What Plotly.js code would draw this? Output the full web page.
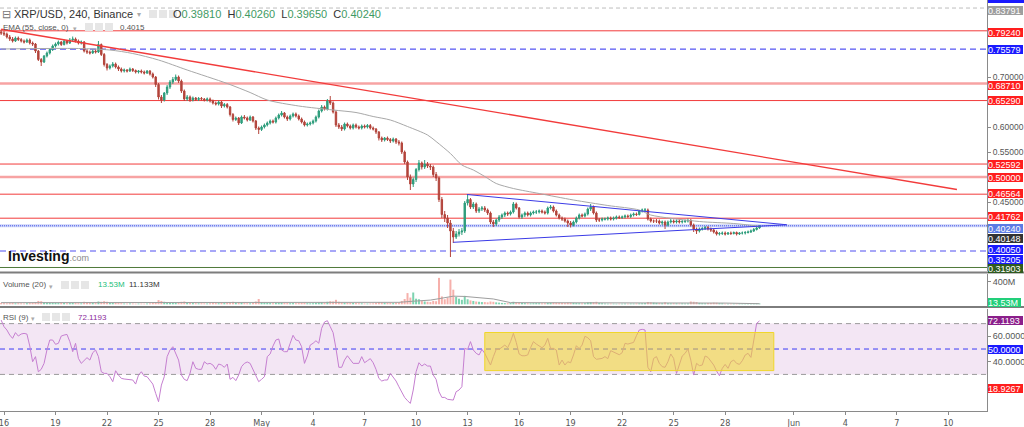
<!DOCTYPE html>
<html><head><meta charset="utf-8">
<script src="https://cdn.plot.ly/plotly-3.0.1.min.js"></script>
<style>html,body{margin:0;padding:0;background:#fff}#chart{width:1024px;height:427px}</style>
</head><body><div id="chart"></div>
<script>
// ---------- DATA ----------
const symbolTitle = 'XRP/USD, 240, Binance';
const startTime = '2022-04-15T20:00:00Z';
const stepHours = 4;

const opens = [0.790,
0.788,0.786,0.780,0.776,0.772,0.778, 0.775,0.772,0.770,0.774,0.768,0.766, 0.752,0.735,0.730,0.742,0.748,0.755,
0.762,0.766,0.770,0.765,0.772,0.768, 0.774,0.776,0.772,0.768,0.770,0.752, 0.750,0.748,0.752,0.750,0.765,0.745,
0.725,0.718,0.722,0.726,0.720,0.716, 0.712,0.714,0.712,0.716,0.713,0.710, 0.712,0.710,0.708,0.712,0.706,0.700,
0.685,0.660,0.654,0.668,0.680,0.690, 0.695,0.700,0.692,0.672,0.656,0.660, 0.654,0.658,0.655,0.657,0.656,0.654,
0.656,0.652,0.648,0.646,0.650,0.642, 0.645,0.640,0.625,0.615,0.618,0.608, 0.620,0.618,0.614,0.620,0.612,0.598,
0.595,0.600,0.604,0.608,0.612,0.610, 0.618,0.624,0.628,0.620,0.616,0.622, 0.626,0.622,0.616,0.610,0.604,0.606,
0.608,0.612,0.620,0.632,0.640,0.636, 0.652,0.648,0.630,0.604,0.600,0.596, 0.606,0.602,0.598,0.604,0.600,0.598,
0.602,0.600,0.603,0.598,0.596,0.590, 0.578,0.574,0.578,0.575,0.572,0.576, 0.570,0.568,0.550,0.530,0.500,0.486,
0.495,0.515,0.528,0.520,0.526,0.522, 0.520,0.505,0.498,0.455,0.425,0.418, 0.408,0.392,0.380,0.386,0.390,0.392,
0.448,0.455,0.440,0.446,0.432,0.436, 0.438,0.434,0.428,0.410,0.406,0.414, 0.420,0.424,0.428,0.426,0.430,0.446,
0.438,0.420,0.424,0.428,0.424,0.428, 0.430,0.430,0.432,0.430,0.428,0.438, 0.440,0.432,0.424,0.418,0.416,0.412,
0.408,0.404,0.410,0.418,0.424,0.422, 0.426,0.436,0.440,0.428,0.414,0.414, 0.416,0.416,0.418,0.416,0.418,0.420,
0.419,0.420,0.422,0.421,0.424,0.426, 0.425,0.432,0.434,0.434,0.416,0.412, 0.412,0.412,0.408,0.410,0.404,0.410,
0.412,0.410,0.412,0.410,0.411,0.412, 0.413,0.404,0.396,0.392,0.396,0.397, 0.399,0.396,0.394,0.390,0.386,0.387,
0.388,0.386,0.388,0.387,0.389,0.386, 0.388,0.388,0.389,0.390,0.392,0.395,
0.3981];

const highs = [0.795,
0.792,0.789,0.784,0.780,0.781,0.781, 0.778,0.775,0.777,0.777,0.771,0.768, 0.754,0.738,0.744,0.751,0.758,0.765,
0.769,0.773,0.772,0.775,0.774,0.778, 0.781,0.779,0.775,0.773,0.772,0.756, 0.753,0.755,0.755,0.772,0.767,0.748,
0.728,0.725,0.730,0.729,0.723,0.719, 0.717,0.716,0.719,0.718,0.715,0.714, 0.715,0.713,0.714,0.714,0.709,0.702,
0.688,0.664,0.670,0.684,0.694,0.700, 0.705,0.703,0.695,0.675,0.664,0.663, 0.661,0.660,0.660,0.660,0.658,0.659,
0.659,0.655,0.651,0.653,0.652,0.648, 0.648,0.642,0.628,0.621,0.620,0.623, 0.624,0.621,0.623,0.622,0.614,0.601,
0.603,0.607,0.611,0.615,0.615,0.621, 0.627,0.632,0.630,0.623,0.625,0.629, 0.629,0.625,0.619,0.613,0.609,0.611,
0.615,0.623,0.635,0.644,0.643,0.656, 0.662,0.651,0.633,0.608,0.604,0.609, 0.609,0.605,0.607,0.607,0.603,0.605,
0.605,0.606,0.606,0.601,0.598,0.592, 0.581,0.580,0.581,0.578,0.579,0.578, 0.574,0.571,0.553,0.533,0.505,0.499,
0.518,0.534,0.531,0.534,0.530,0.526, 0.523,0.510,0.501,0.460,0.432,0.424, 0.414,0.398,0.392,0.396,0.398,0.452,
0.466,0.458,0.450,0.449,0.440,0.442, 0.442,0.437,0.431,0.414,0.417,0.424, 0.427,0.431,0.431,0.433,0.450,0.449,
0.440,0.427,0.431,0.431,0.431,0.433, 0.434,0.435,0.435,0.433,0.441,0.444, 0.443,0.435,0.427,0.421,0.419,0.415,
0.412,0.413,0.421,0.427,0.427,0.429, 0.439,0.446,0.443,0.431,0.418,0.419, 0.419,0.421,0.421,0.421,0.423,0.423,
0.423,0.425,0.425,0.427,0.429,0.429, 0.434,0.437,0.438,0.437,0.419,0.415, 0.416,0.415,0.413,0.413,0.413,0.416,
0.415,0.415,0.415,0.414,0.415,0.417, 0.416,0.407,0.399,0.399,0.400,0.402, 0.402,0.399,0.397,0.393,0.390,0.391,
0.391,0.390,0.391,0.391,0.391,0.390, 0.391,0.392,0.393,0.395,0.398,0.400,
0.4026];

const lows = [0.784,
0.782,0.777,0.772,0.769,0.770,0.772, 0.769,0.767,0.768,0.765,0.762,0.748, 0.732,0.722,0.728,0.739,0.745,0.752,
0.759,0.763,0.762,0.763,0.765,0.766, 0.771,0.769,0.765,0.765,0.749,0.746, 0.745,0.746,0.747,0.748,0.742,0.721,
0.713,0.715,0.719,0.717,0.712,0.709, 0.709,0.709,0.710,0.710,0.707,0.707, 0.707,0.705,0.706,0.703,0.697,0.680,
0.655,0.648,0.651,0.664,0.676,0.686, 0.692,0.688,0.668,0.652,0.652,0.650, 0.651,0.652,0.652,0.653,0.651,0.651,
0.649,0.645,0.643,0.643,0.638,0.639, 0.637,0.621,0.611,0.612,0.604,0.606, 0.615,0.611,0.612,0.609,0.594,0.586,
0.592,0.597,0.601,0.605,0.607,0.607, 0.615,0.621,0.617,0.612,0.613,0.619, 0.619,0.613,0.607,0.601,0.601,0.603,
0.605,0.609,0.617,0.629,0.633,0.633, 0.644,0.627,0.600,0.596,0.592,0.593, 0.599,0.595,0.595,0.597,0.595,0.595,
0.597,0.597,0.595,0.593,0.586,0.573, 0.570,0.571,0.572,0.568,0.569,0.566, 0.563,0.546,0.526,0.494,0.474,0.480,
0.490,0.511,0.515,0.516,0.518,0.514, 0.500,0.492,0.450,0.418,0.410,0.398, 0.340,0.368,0.376,0.381,0.384,0.388,
0.443,0.436,0.436,0.428,0.428,0.432, 0.430,0.424,0.406,0.400,0.402,0.410, 0.416,0.420,0.422,0.423,0.427,0.435,
0.417,0.416,0.420,0.421,0.421,0.425, 0.426,0.427,0.427,0.425,0.425,0.435, 0.429,0.421,0.415,0.412,0.409,0.400,
0.399,0.401,0.407,0.415,0.419,0.419, 0.423,0.432,0.425,0.410,0.410,0.411, 0.413,0.413,0.413,0.413,0.415,0.416,
0.416,0.417,0.418,0.418,0.421,0.422, 0.423,0.429,0.430,0.413,0.409,0.408, 0.408,0.405,0.404,0.396,0.401,0.407,
0.407,0.407,0.407,0.407,0.408,0.409, 0.401,0.390,0.386,0.389,0.393,0.394, 0.393,0.390,0.387,0.383,0.383,0.384,
0.383,0.384,0.384,0.385,0.383,0.384, 0.385,0.385,0.387,0.388,0.390,0.393,
0.3965];

const closes = [0.788,
0.786,0.780,0.776,0.772,0.778,0.775, 0.772,0.770,0.774,0.768,0.766,0.752, 0.735,0.730,0.742,0.748,0.755,0.762,
0.766,0.770,0.765,0.772,0.768,0.774, 0.776,0.772,0.768,0.770,0.752,0.750, 0.748,0.752,0.750,0.765,0.745,0.725,
0.718,0.722,0.726,0.720,0.716,0.712, 0.714,0.712,0.716,0.713,0.710,0.712, 0.710,0.708,0.712,0.706,0.700,0.685,
0.660,0.654,0.668,0.680,0.690,0.695, 0.700,0.692,0.672,0.656,0.660,0.654, 0.658,0.655,0.657,0.656,0.654,0.656,
0.652,0.648,0.646,0.650,0.642,0.645, 0.640,0.625,0.615,0.618,0.608,0.620, 0.618,0.614,0.620,0.612,0.598,0.595,
0.600,0.604,0.608,0.612,0.610,0.618, 0.624,0.628,0.620,0.616,0.622,0.626, 0.622,0.616,0.610,0.604,0.606,0.608,
0.612,0.620,0.632,0.640,0.636,0.652, 0.648,0.630,0.604,0.600,0.596,0.606, 0.602,0.598,0.604,0.600,0.598,0.602,
0.600,0.603,0.598,0.596,0.590,0.578, 0.574,0.578,0.575,0.572,0.576,0.570, 0.568,0.550,0.530,0.500,0.486,0.495,
0.515,0.528,0.520,0.526,0.522,0.520, 0.505,0.498,0.455,0.425,0.418,0.408, 0.392,0.380,0.386,0.390,0.392,0.448,
0.455,0.440,0.446,0.432,0.436,0.438, 0.434,0.428,0.410,0.406,0.414,0.420, 0.424,0.428,0.426,0.430,0.446,0.438,
0.420,0.424,0.428,0.424,0.428,0.430, 0.430,0.432,0.430,0.428,0.438,0.440, 0.432,0.424,0.418,0.416,0.412,0.408,
0.404,0.410,0.418,0.424,0.422,0.426, 0.436,0.440,0.428,0.414,0.414,0.416, 0.416,0.418,0.416,0.418,0.420,0.419,
0.420,0.422,0.421,0.424,0.426,0.425, 0.432,0.434,0.434,0.416,0.412,0.412, 0.412,0.408,0.410,0.404,0.410,0.412,
0.410,0.412,0.410,0.411,0.412,0.413, 0.404,0.396,0.392,0.396,0.397,0.399, 0.396,0.394,0.390,0.386,0.387,0.388,
0.386,0.388,0.387,0.389,0.386,0.388, 0.388,0.389,0.390,0.392,0.395,0.3981,
0.4024];

// volume in millions
const volumes = [25,
20,18,22,25,18,20, 18,15,20,22,25,40, 60,55,35,30,28,25, 25,22,28,25,20,22, 25,22,20,18,45,35, 28,25,22,50,45,55,
45,30,28,25,22,20, 15,14,16,15,12,14, 14,12,15,18,25,40, 75,60,45,40,35,30, 35,30,45,50,30,25, 22,20,18,20,18,16,
20,25,22,20,28,22, 25,40,45,30,35,28, 22,20,18,25,50,95, 40,30,25,22,20,25, 28,30,25,22,20,22, 20,22,25,28,20,18,
20,25,35,40,30,45, 55,50,80,45,35,30, 30,28,25,22,20,18, 15,14,16,18,25,40, 35,30,25,28,22,30, 35,60,95,200,120,210,
100,90,60,50,45,40, 60,55,470,140,90,120, 440,260,130,100,80,150, 90,70,60,50,45,40, 40,35,50,45,35,30, 25,22,20,25,45,35,
30,25,22,20,18,20, 22,20,18,20,25,28, 30,28,25,24,22,30, 28,25,22,20,18,20, 35,40,38,45,25,20, 15,12,14,12,10,12,
12,14,12,15,14,16, 18,20,22,40,35,30, 25,22,20,35,20,18, 20,18,16,18,15,16, 50,45,40,25,20,18, 22,25,30,28,20,18,
12,10,12,11,10,12, 12,11,12,14,15,18,
13.53];

const rsi = [72.8,67.6,65.0,61.0,58.4,62.9,60.2,61.8,62.3,61.8,
52.4,40.0,44.0,32.1,34.0,38.7,49.2,57.1,57.1,53.7,
54.5,60.2,61.0,61.5,55.8,47.9,54.5,42.6,38.7,41.3,
43.2,41.3,47.1,49.2,44.0,32.1,30.8,30.8,28.2,24.3,
32.9,29.5,26.9,26.4,26.1,25.8,25.6,22.4,29.5,32.1,
28.7,28.2,25.6,22.4,15.1,8.5,21.6,28.2,44.0,49.2,
51.8,46.1,41.3,29.5,26.1,25.1,30.8,40.0,34.8,34.0,
34.0,40.0,38.2,38.7,37.4,34.0,38.2,37.4,35.6,38.2,
26.1,27.7,25.1,29.5,36.1,38.7,39.8,38.7,34.0,28.2,
24.3,26.1,28.2,44.0,46.1,52.4,57.1,57.9,49.2,47.9,
47.9,54.5,60.8,57.1,56.5,51.8,38.7,44.5,53.1,54.5,
56.5,54.5,66.3,71.3,72.3,67.6,62.9,50.5,35.6,35.6,
41.3,44.7,41.3,38.7,38.7,38.7,44.0,39.2,40.8,42.4,
39.2,34.0,26.9,24.8,25.6,25.6,30.8,28.2,24.8,20.3,
15.6,11.9,9.3,7.2,17.7,32.1,39.2,36.6,38.2,36.6,
36.6,29.5,26.1,16.4,11.9,11.9,10.4,9.8,9.8,16.4,
17.7,20.3,50.5,49.7,55.8,49.2,46.6,45.3,49.7,46.6,
41.9,37.4,44.0,49.7,49.7,51.3,53.1,51.0,55.8,62.3,
55.2,46.1,44.7,44.7,45.3,51.0,55.8,53.9,52.6,51.0,
53.1,58.4,50.5,50.5,49.2,37.4,41.3,37.4,40.0,39.2,
45.3,52.6,50.3,53.1,60.0,58.9,56.5,44.0,41.9,42.1,
42.6,44.0,42.4,48.7,47.6,46.6,45.5,47.1,54.5,53.9,
54.5,55.2,60.5,65.0,65.5,65.0,35.6,32.1,42.6,44.0,
38.7,36.1,35.6,40.0,46.1,42.6,30.8,38.7,44.5,46.6,
50.0,41.3,29.5,38.7,36.9,37.4,44.5,43.4,40.0,37.4,
32.7,29.0,34.8,37.9,34.8,40.0,41.3,38.7,37.9,40.8,
45.3,46.6,43.4,57.6,70.2,72.1193];

const emaTimes = ['2022-04-15 20:00','2022-04-20 08:00','2022-04-22 04:00','2022-04-23 12:00','2022-04-25 00:00',
'2022-04-26 16:00','2022-04-29 00:00','2022-04-30 08:00','2022-05-01 08:00','2022-05-03 04:00','2022-05-05 04:00',
'2022-05-06 12:00','2022-05-07 12:00','2022-05-08 12:00','2022-05-09 12:00','2022-05-10 16:00','2022-05-11 04:00',
'2022-05-12 00:00','2022-05-12 16:00','2022-05-13 08:00','2022-05-14 00:00','2022-05-14 16:00','2022-05-15 16:00',
'2022-05-17 04:00','2022-05-19 04:00','2022-05-21 04:00','2022-05-23 00:00','2022-05-23 16:00','2022-05-26 12:00',
'2022-05-28 12:00','2022-05-30 00:00'];
const emaValues = [0.756,0.757,0.754,0.747,0.734,0.714,0.687,0.669,0.654,0.642,0.634,0.629,0.621,0.614,0.601,0.584,0.571,
0.547,0.524,0.514,0.501,0.487,0.477,0.467,0.454,0.443,0.434,0.424,0.411,0.407,0.4015];

const volMaTimes = ['2022-04-15 20:00','2022-05-07 20:00','2022-05-09 00:00','2022-05-09 20:00','2022-05-10 20:00',
'2022-05-11 08:00','2022-05-11 20:00','2022-05-12 04:00','2022-05-12 20:00','2022-05-13 20:00','2022-05-14 12:00',
'2022-05-15 12:00','2022-05-20 00:00','2022-05-23 12:00','2022-05-26 12:00','2022-05-28 00:00','2022-05-30 00:00'];
const volMaValues = [30,25,35,55,75,100,130,145,140,115,95,30,28,25,32,22,11.133];

const trendRedTimes = ['2022-04-15 20:00','2022-06-10 12:00'];
const trendRedPrices = [0.7955,0.475];
const triUpperTimes = ['2022-05-12 23:00','2022-05-31 14:00'];
const triUpperPrices = [0.465,0.4045];
const triLowerTimes = ['2022-05-12 04:00','2022-05-31 14:00'];
const triLowerPrices = [0.3694,0.4045];

const levelValues = [0.83791,0.79240,0.75579,0.68710,0.65290,0.52592,0.50000,0.46564,0.41762,0.40240,0.40240,0.35205,0.31903];
const priceLabelValues = [0.83791,0.79240,0.75579,0.68710,0.65290,0.52592,0.50000,0.46564,0.41762,0.40240,0.40148,0.40050,0.35205,0.31903];

const rsiZoneTimes = ['2022-05-14 00:00','2022-05-30 20:00'];
const rsiZoneValues = [33,63];
const rsiBand = [30,70];
const rsiMid = 50;
const rsiExtraLabel = 18.9267;

const xTickDates = ['2022-04-16','2022-04-19','2022-04-22','2022-04-25','2022-04-28','2022-05-01','2022-05-04','2022-05-07',
'2022-05-10','2022-05-13','2022-05-16','2022-05-19','2022-05-22','2022-05-25','2022-05-28','2022-06-01','2022-06-04','2022-06-07','2022-06-10'];
const xTickLabels = ['16','19','22','25','28','May','4','7','10','13','16','19','22','25','28','Jun','4','7','10'];
const priceTickVals = [0.45,0.55,0.60,0.70];
const volTickVals = [400];
const volTickText = ['400M'];
const rsiTickVals = [40,60];

// ---------- STYLES ----------
const levelStyles = [
 {c:'#bdbdbd',w:1,d:'4px,3px'},
 {c:'#f23b3b',w:1,d:'solid'},
 {c:'#2b2bf0',w:1,d:'6px,4px'},
 {c:'#f7a3a3',w:2.5,d:'solid'},
 {c:'#f23b3b',w:1,d:'solid'},
 {c:'#f23b3b',w:1,d:'solid'},
 {c:'#f7a3a3',w:2.5,d:'solid'},
 {c:'#f23b3b',w:1,d:'solid'},
 {c:'#f23b3b',w:1,d:'solid'},
 {c:'rgba(110,130,235,0.35)',w:3,d:'solid'},
 {c:'#4a5ae8',w:1,d:'1px,1px'},
 {c:'#8a8af5',w:1.5,d:'6px,4px'},
 {c:'#4f7a3a',w:1,d:'solid'}
];
const labelStyles = [
 {bg:'#9e9e9e',s:-2},{bg:'#ff1e1e',s:-1.5},{bg:'#1a1aff',s:0},{bg:'#ff1e1e',s:-2},{bg:'#ff1e1e',s:0},
 {bg:'#ff1e1e',s:0},{bg:'#ff1e1e',s:0},{bg:'#ff1e1e',s:1},{bg:'#ff1e1e',s:1.5},{bg:'#5b7be4',s:-2.5},
 {bg:'#333333',s:-12.7},{bg:'#1a1aff',s:-22.7},{bg:'#1a1aff',s:-8.6},{bg:'#2f5a1f',s:-0.8}
];

const W = 987, H = 411; // plot area in px
const px = x => x / W;
const py = y => (H - y) / H;

const t0 = Date.parse(startTime);
const times = closes.map((_, i) => new Date(t0 + i * stepHours * 3600e3).toISOString().slice(0,16).replace('T',' '));
const volColors = closes.map((c, i) => c >= opens[i] ? '#7dd3b0' : '#f6b0ab');

const traces = [
 {type:'candlestick', x:times, open:opens, high:highs, low:lows, close:closes, xaxis:'x', yaxis:'y',
  increasing:{line:{color:'#2e9d7c',width:1}, fillcolor:'#2e9d7c'},
  decreasing:{line:{color:'#b3443b',width:1}, fillcolor:'#b3443b'},
  whiskerwidth:0, hoverinfo:'skip'},
 {type:'scatter', mode:'lines', x:emaTimes, y:emaValues, xaxis:'x', yaxis:'y', line:{color:'#a8a8a8', width:1, shape:'spline', smoothing:0.8}, hoverinfo:'skip'},
 {type:'scatter', mode:'lines', x:trendRedTimes, y:trendRedPrices, xaxis:'x', yaxis:'y', line:{color:'#f23b3b', width:1.3}, hoverinfo:'skip'},
 {type:'scatter', mode:'lines', x:triUpperTimes, y:triUpperPrices, xaxis:'x', yaxis:'y', line:{color:'#3b3be6', width:1}, hoverinfo:'skip'},
 {type:'scatter', mode:'lines', x:triLowerTimes, y:triLowerPrices, xaxis:'x', yaxis:'y', line:{color:'#3b3be6', width:1}, hoverinfo:'skip'},
 {type:'bar', x:times, y:volumes, xaxis:'x', yaxis:'y2', marker:{color:volColors, line:{width:0}}, hoverinfo:'skip'},
 {type:'scatter', mode:'lines', x:volMaTimes, y:volMaValues, xaxis:'x', yaxis:'y2', line:{color:'#9e9e9e', width:1}, hoverinfo:'skip'},
 {type:'scatter', mode:'lines', x:times, y:rsi, xaxis:'x', yaxis:'y3', line:{color:'#c57fd0', width:1}, hoverinfo:'skip'}
];

const shapes = [];
levelValues.forEach((v, i) => {
  const st = levelStyles[i];
  shapes.push({type:'line', xref:'paper', x0:0, x1:1, yref:'y', y0:v, y1:v, layer:'below', line:{color:st.c, width:st.w, dash:st.d}});
});
shapes.push({type:'rect', xref:'paper', x0:0, x1:1, yref:'y3', y0:rsiBand[0], y1:rsiBand[1], layer:'below', fillcolor:'#f3e6f4', line:{width:0}});
shapes.push({type:'line', xref:'paper', x0:0, x1:1, yref:'y3', y0:rsiBand[1], y1:rsiBand[1], layer:'below', line:{color:'#9a9a9a', width:1, dash:'5px,4px'}});
shapes.push({type:'line', xref:'paper', x0:0, x1:1, yref:'y3', y0:rsiBand[0], y1:rsiBand[0], layer:'below', line:{color:'#9a9a9a', width:1, dash:'5px,4px'}});
shapes.push({type:'line', xref:'paper', x0:0, x1:1, yref:'y3', y0:rsiMid, y1:rsiMid, layer:'below', line:{color:'#3a3af5', width:1, dash:'5px,4px'}});
shapes.push({type:'rect', xref:'x', x0:rsiZoneTimes[0], x1:rsiZoneTimes[1], yref:'y3', y0:rsiZoneValues[0], y1:rsiZoneValues[1], layer:'above', fillcolor:'rgba(240,214,40,0.55)', line:{color:'#f0d62a', width:1}});
[272.5, 307].forEach(y => shapes.push({type:'line', xref:'paper', x0:0, x1:1024/W, yref:'paper', y0:py(y), y1:py(y), line:{color:'#7d7d7d', width:2}}));
shapes.push({type:'rect', xref:'paper', yref:'paper', x0:1 + 1/W, x1:1024/W, y0:py(3), y1:1, fillcolor:'#1a1aff', line:{width:0}});
const iconBoxes = [[149,14],[85,27],[61,285],[42,317]];
iconBoxes.forEach(([x, y]) => {
  for (let k = 0; k < 3; k++) {
    shapes.push({type:'rect', xref:'paper', yref:'paper', x0:px(x + k*10), x1:px(x + k*10 + 8), y0:py(y + 4), y1:py(y - 4),
      fillcolor:'#e6e6e6', line:{width:0}});
  }
});

const annotations = [];
const LF = 'Liberation Sans, Arial, sans-serif';
function valueLabel(yref, v, text, bg, shift, w) {
  annotations.push({xref:'paper', x:1, xanchor:'left', xshift:1, yref:yref, y:v, yanchor:'middle', yshift:shift,
    text:text, showarrow:false, bgcolor:bg, borderwidth:0, font:{color:'#fff', size:9, family:LF},
    width:w, height:9, align:'left', borderpad:0});
}
priceLabelValues.forEach((v, i) => valueLabel('y', v, v.toFixed(5), labelStyles[i].bg, labelStyles[i].s, 35));
valueLabel('y2', volumes[volumes.length-1], volumes[volumes.length-1].toFixed(2) + 'M', '#22cf7a', 1, 33);
valueLabel('y3', rsi[rsi.length-1], rsi[rsi.length-1].toFixed(4), '#8b1f8b', 0, 35);
valueLabel('y3', rsiMid, rsiMid.toFixed(4), '#1a1aff', 0, 35);
valueLabel('y3', rsiExtraLabel, rsiExtraLabel.toFixed(4), '#ff1e1e', 0, 35);

function txt(x, y, text, size, color) {
  annotations.push({xref:'paper', yref:'paper', x:px(x), y:py(y), xanchor:'left', yanchor:'middle', text:text, showarrow:false,
    font:{size:size, color:color, family:LF}, borderpad:0, borderwidth:0});
}
const last = closes.length - 1;
const green = '#3f9a63';
txt(2, 14, '⊟', 11, '#777');
txt(14, 14, symbolTitle, 11, '#333');
txt(137, 15, '▾', 8, '#aaa');
const ohlcTxt = ['O','H','L','C'].map((k, j) => k + '<span style="color:' + green + '">' + [opens[last], highs[last], lows[last], closes[last]][j].toFixed(5) + '</span>').join('  ');
txt(173, 14, ohlcTxt, 11, '#333');
txt(3, 27, 'EMA (55, close, 0)', 8, '#555');
txt(73, 28, '▾', 7, '#aaa');
txt(120, 27, emaValues[emaValues.length-1].toFixed(4), 8, '#555');
txt(3, 285, 'Volume (20)', 8, '#555');
txt(49, 286, '▾', 7, '#aaa');
txt(98, 285, volumes[last].toFixed(2) + 'M', 8, '#22c07a');
txt(129, 285, volMaValues[volMaValues.length-1].toFixed(3) + 'M', 8, '#333');
txt(3, 317, 'RSI (9)', 8, '#555');
txt(31, 318, '▾', 7, '#aaa');
txt(78, 317, rsi[last].toFixed(4), 8, '#8b2a9b');
txt(8, 256, '<b>Investing</b><span style="font-size:9px;color:#8a8a8a">.com</span>', 14, '#111');

const axisFont = {size:9, color:'#555', family:LF};
const yCommon = {side:'right', anchor:'x', showgrid:false, zeroline:false, showline:true, linecolor:'#8a8a8a',
  ticks:'outside', ticklen:3, tickcolor:'#8a8a8a', tickfont:axisFont, fixedrange:true};
const layout = {
  width:1024, height:427,
  margin:{l:0, r:37, t:0, b:16},
  paper_bgcolor:'#fff', plot_bgcolor:'#fff',
  showlegend:false, bargap:0.3, dragmode:false,
  xaxis:{type:'date', domain:[0,1], anchor:'y3', range:['2022-04-15 18:24','2022-06-12 06:00'],
    showgrid:false, zeroline:false, showline:true, linecolor:'#8a8a8a', ticks:'outside', ticklen:3, tickcolor:'#8a8a8a',
    tickvals:xTickDates, ticktext:xTickLabels, ticklabeloverflow:'allow',
    tickfont:{size:9, color:'#555', family:'DejaVu Sans Condensed, Liberation Sans Narrow, sans-serif'},
    rangeslider:{visible:false}, fixedrange:true},
  yaxis:Object.assign({domain:[py(271),1], range:[0.312,0.854], tickvals:priceTickVals, tickformat:'.5f'}, yCommon, {tickfont:{size:8.5, color:'#555', family:LF}}),
  yaxis2:Object.assign({domain:[py(306),py(274)], range:[-30,539], tickvals:volTickVals, ticktext:volTickText}, yCommon),
  yaxis3:Object.assign({domain:[0,py(308.5)], range:[1.2,81.9], tickvals:rsiTickVals, tickformat:'.4f'}, yCommon),
  shapes:shapes, annotations:annotations
};
Plotly.newPlot('chart', traces, layout, {staticPlot:true, displayModeBar:false});
</script></body></html>
